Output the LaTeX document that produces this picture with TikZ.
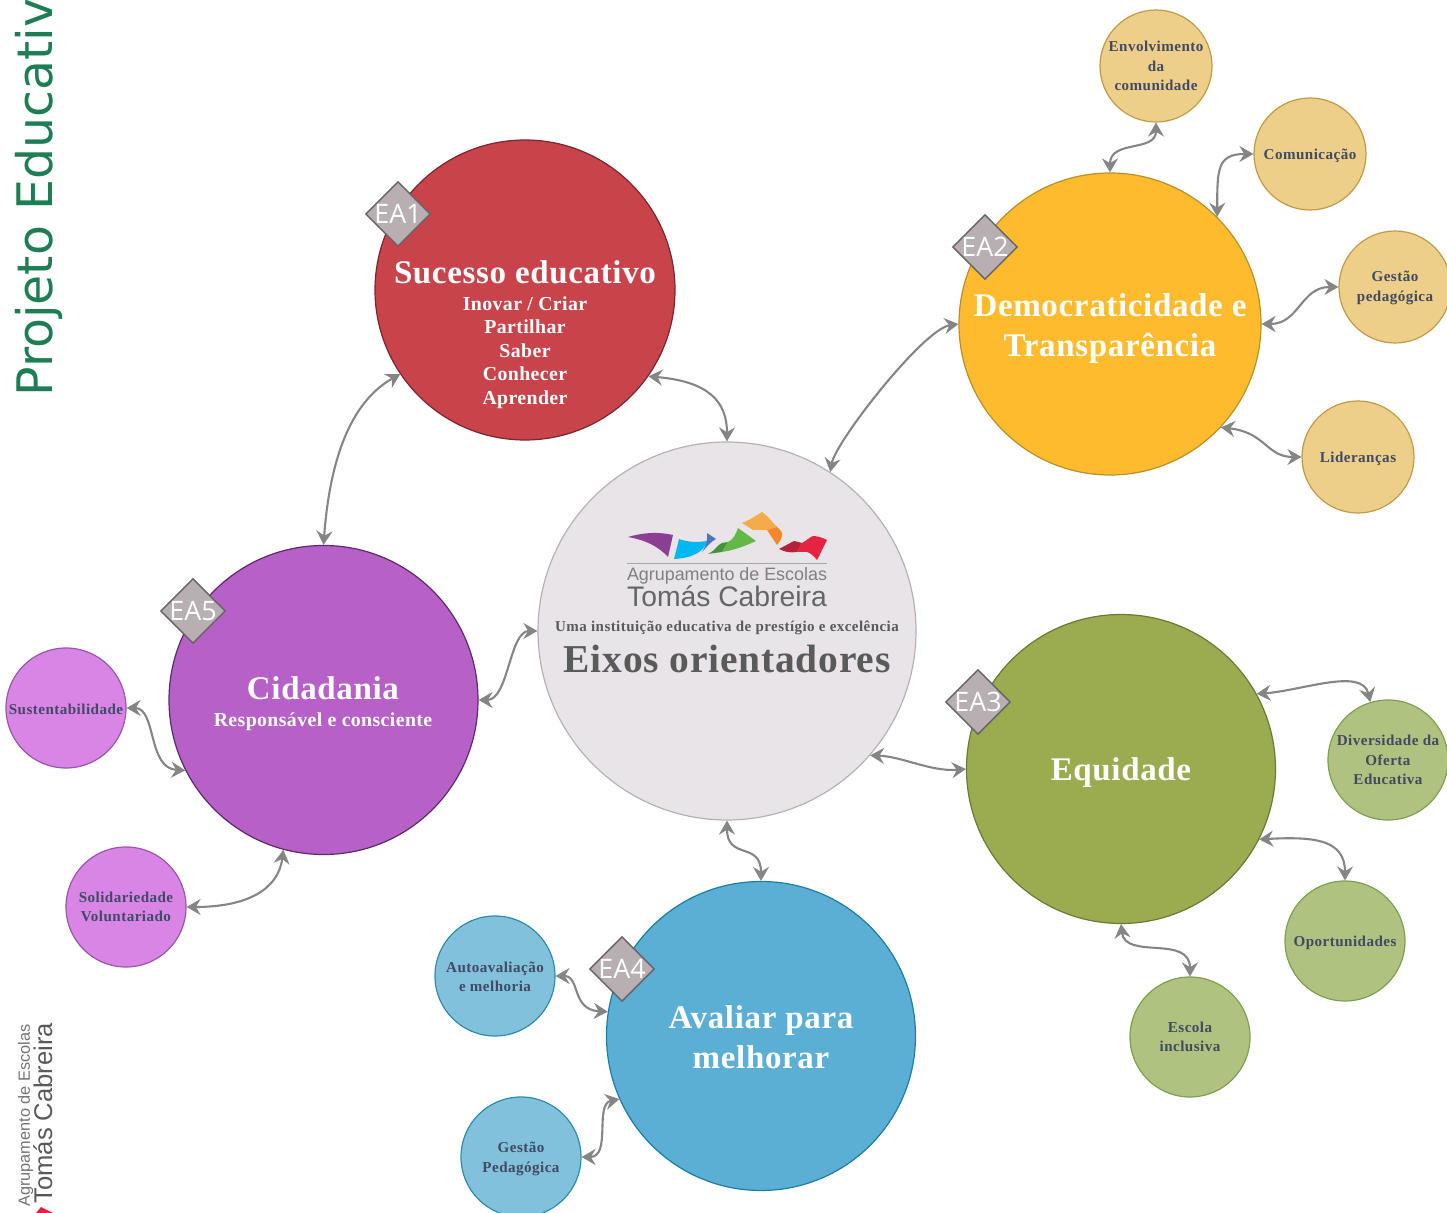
\documentclass[tikz,border=0pt]{standalone}
\usepackage{fontspec}
\setmainfont{Liberation Serif}
\newfontfamily\opn{Open Sans}
\newfontfamily\ttl{DejaVu Sans}
\newfontfamily\lgt{Liberation Sans}
\newfontfamily\serS[LetterSpace=3]{Liberation Serif}
\newfontfamily\serM[LetterSpace=2]{Liberation Serif}
\usetikzlibrary{arrows.meta,shapes.geometric}
\definecolor{ink}{HTML}{404A63}
\definecolor{connc}{HTML}{858585}
\definecolor{tagc}{HTML}{B8AFB2}
\definecolor{tagb}{HTML}{666266}
\definecolor{yelf}{HTML}{EECF8A}\definecolor{yeld}{HTML}{C09A45}
\definecolor{grnf}{HTML}{AFC27F}\definecolor{grnd}{HTML}{7FA050}
\definecolor{bluf}{HTML}{82C1DC}\definecolor{blud}{HTML}{2E8CAE}
\definecolor{purf}{HTML}{D885E6}\definecolor{purd}{HTML}{9A55AC}
\definecolor{maintxt}{HTML}{5A5A5A}
\tikzset{
 bigc/.style={circle,inner sep=0pt,line width=0.6pt},
 bigt/.style={inner sep=0pt,text=white,align=center,font=\fontsize{16.5}{20}\selectfont\serM\bfseries},
 subt/.style={inner sep=0pt,text=white,align=center,font=\fontsize{9.9}{11.75}\selectfont\serM\bfseries},
 smallc/.style={circle,inner sep=0pt,line width=0.6pt,align=center,text=ink,font=\fontsize{7.55}{9.6}\selectfont\serS\bfseries},
 conn/.style={draw=connc,line width=1.05pt,{Stealth[length=7pt,width=8pt,inset=2.4pt]}-{Stealth[length=7pt,width=8pt,inset=2.4pt]}},
 tagd/.style={diamond,aspect=1,inner sep=0pt,minimum size=32.5pt,fill=tagc,draw=tagb,line width=0.7pt,
   label={[text=white,inner sep=0pt,font=\fontsize{13.4}{13.4}\selectfont\opn]center:#1}},
 yel/.style={smallc,minimum size=56pt,fill=yelf,draw=yeld},
 grn/.style={smallc,minimum size=60pt,fill=grnf,draw=grnd},
 blu/.style={smallc,minimum size=60pt,fill=bluf,draw=blud},
 pur/.style={smallc,minimum size=60pt,fill=purf,draw=purd},
}
\newcommand{\lowr}[1]{\raisebox{-1pt}[\height][\depth]{#1}}
\newcommand{\lowh}[1]{\raisebox{-0.5pt}[\height][\depth]{#1}}
\begin{document}
\begin{tikzpicture}[x=0.5pt,y=-0.5pt]
\useasboundingbox (0,0) rectangle (1447,1213);
\clip (0,0) rectangle (1447,1213);
% title
\node[rotate=90,anchor=base west,inner sep=0pt,font=\fontsize{24.5}{24.5}\selectfont\ttl] (title) at (52,397) {\textcolor[HTML]{1F7D54}{Projeto Educativo}};
\node[rotate=90,anchor=base west,inner sep=0pt,text=gray!90!black,font=\fontsize{8.15}{8.15}\selectfont\lgt] (foot1) at (30,1207) {Agrupamento de Escolas};
\node[rotate=90,anchor=base west,inner sep=0pt,text=gray!70!black,font=\fontsize{12.8}{12.8}\selectfont\lgt] (foot2) at (52,1204) {Tomás Cabreira};
\fill[fill={rgb,255:red,228;green,34;blue,64}] (36,1213) -- (41,1207) -- (53,1213) -- cycle;
% circles
\node[bigc,minimum size=189pt,fill={rgb,255:red,232;green,228;blue,232},draw={rgb,255:red,181;green,177;blue,181}] (main) at (727,631) {};
\node[bigc,minimum size=150pt,fill={rgb,255:red,201;green,67;blue,75},draw={rgb,255:red,122;green,37;blue,48}] (ea1) at (525,290) {};
\node[bigc,minimum size=151pt,fill={rgb,255:red,255;green,187;blue,46},draw={rgb,255:red,184;green,144;blue,42}] (ea2) at (1110,324) {};
\node[bigc,minimum size=154.5pt,fill={rgb,255:red,155;green,171;blue,80},draw={rgb,255:red,107;green,122;blue,53}] (ea3) at (1121,769) {};
\node[bigc,minimum size=154.5pt,fill={rgb,255:red,91;green,174;blue,212},draw={rgb,255:red,28;green,126;blue,166}] (ea4) at (761,1036) {};
\node[bigc,minimum size=154.5pt,fill={rgb,255:red,183;green,97;blue,200},draw={rgb,255:red,90;green,42;blue,106}] (ea5) at (323.5,700) {};
% texts in big circles
\node[bigt] (t1) at (525,272) {Sucesso educativo};
\node[subt,anchor=north] (t1b) at (525,296) {Inovar / Criar\\Partilhar\\Saber\\Conhecer\\Aprender};
\node[bigt] (t2) at (1110,329) {Democraticidade e\\Transparência};
\node[bigt] (t3) at (1121,773) {Equidade};
\node[bigt] (t4) at (761,1037) {Avaliar para\\melhorar};
\node[bigt] (t5) at (323,688) {Cidadania};
\node[subt] (t5b) at (323,722) {Responsável e consciente};
% main text and logo
\fill[fill={rgb,255:red,138;green,63;blue,146}] (628,537) .. controls (645,532) and (660,532) .. (673,535) -- (668,557) .. controls (658,546) and (645,540) .. cycle;
\fill[fill={rgb,255:red,0;green,184;blue,240}] (679,539) .. controls (690,543) and (700,542) .. (707,541) .. controls (705,550) and (695,558) .. (674,559) -- cycle;
\fill[fill={rgb,255:red,80;green,115;blue,190}] (707,533) -- (716,539) .. controls (710,542) and (706,548) .. (702,552) .. controls (706,546) and (708,540) .. cycle;
\fill[fill={rgb,255:red,70;green,145;blue,60}] (708,554) .. controls (716,550) and (717,545) .. (722,543) -- (728,542) -- (722,552) -- cycle;
\fill[fill={rgb,255:red,100;green,185;blue,70}] (738,528) -- (756,541) .. controls (745,546) and (735,550) .. (722,552) -- (728,542) .. controls (733,540) and (736,534) .. cycle;
\fill[fill={rgb,255:red,245;green,170;blue,75}] (742,523) .. controls (750,520) and (757,515) .. (762,512) .. controls (768,516) and (772,522) .. (777,527) -- (767,530) -- (753,530) -- cycle;
\fill[fill={rgb,255:red,243;green,136;blue,45}] (767,530) -- (777,527) .. controls (780,530) and (783,532) .. (782,536) .. controls (781,540) and (779,543) .. (777,545) -- cycle;
\fill[fill={rgb,255:red,180;green,35;blue,55}] (779,549) -- (794,541) -- (802,543) -- (797,552) .. controls (790,553) and (785,552) .. cycle;
\fill[fill={rgb,255:red,230;green,35;blue,65}] (802,543) .. controls (806,541) and (810,537) .. (813,536) .. controls (818,536) and (823,538) .. (827,540) -- (817,560) .. controls (813,555) and (810,553) .. (807,552) -- (797,552) -- cycle;
\draw[draw=gray!70,line width=0.6pt] (627,563.5) -- (827,563.5);
\node[inner sep=0pt,text=gray,font=\fontsize{8.95}{8.95}\selectfont\lgt,anchor=base] (lg1) at (727,581) {Agrupamento de Escolas};
\node[inner sep=0pt,text=black!60,font=\fontsize{14.15}{14.15}\selectfont\lgt,anchor=base] (lg2) at (727,607) {Tomás Cabreira};
\node[inner sep=0pt,text=maintxt,font=\fontsize{7.5}{7.5}\selectfont\serS\bfseries] (m1) at (727,628) {Uma instituição educativa de prestígio e excelência};
\node[inner sep=0pt,text=maintxt,font=\fontsize{19.75}{19.75}\selectfont\serM\bfseries] (m2) at (727,659) {Eixos orientadores};
% small circles
\node[yel] (s1) at (1156,66) {Envolvimento\\da\\comunidade};
\node[yel] (s2) at (1310,154) {\lowr{Comunicação}};
\node[yel] (s3) at (1395,287) {\lowh{Gestão}\\\lowh{pedagógica}};
\node[yel] (s4) at (1358,457) {\lowr{Lideranças}};
\node[grn] (s5) at (1388,760) {Diversidade da\\Oferta\\Educativa};
\node[grn] (s6) at (1345,941) {\lowr{Oportunidades}};
\node[grn] (s7) at (1190,1037) {Escola\\inclusiva};
\node[blu] (s8) at (495,976) {\lowh{Autoavaliação}\\\lowh{e melhoria}};
\node[blu] (s9) at (521,1157) {\lowr{Gestão}\\\lowr{Pedagógica}};
\node[pur] (s10) at (66,708) {\lowh{Sustentabilidade}};
\node[pur] (s11) at (126,907) {Solidariedade\\Voluntariado};
% diamonds
\node[tagd=EA1] (d1) at (398,214) {};
\node[tagd=EA2] (d2) at (985,247) {};
\node[tagd=EA3] (d3) at (978,702) {};
\node[tagd=EA4] (d4) at (622,969) {};
\node[tagd=EA5] (d5) at (193,611) {};
% connectors
\draw[conn] (ea1.-35) .. controls +(60,5) and +(0,-40) .. (main.90);
\draw[conn] (ea5.90) .. controls +(7,-95) and +(-45,25) .. (ea1.214);
\draw[conn] (main.57) .. controls +(5,-30) and +(-35,5) .. (ea2.180);
\draw[conn] (main.-41) .. controls +(32,1) and +(-35,3) .. (ea3.180);
\draw[conn] (main.-90) .. controls +(0,40) and +(0,-40) .. (ea4.90);
\draw[conn] (main.180) .. controls +(-28,0) and +(30,0) .. (ea5.0);
\draw[conn] (s1.-90) .. controls +(0,30) and +(0,-33) .. (ea2.90);
\draw[conn] (s2.180) .. controls +(-36,0) and +(0,-48) .. (ea2.45);
\draw[conn] (s3.180) .. controls +(-38,0) and +(38,0) .. (ea2.0);
\draw[conn] (s4.180) .. controls +(-35,0) and +(45,5) .. (ea2.-43);
\draw[conn] (s5.107) .. controls +(-8,-35) and +(45,-3) .. (ea3.29);
\draw[conn] (s6.90) .. controls +(0,-41) and +(55,-3) .. (ea3.-27);
\draw[conn] (s7.90) .. controls +(0,-42) and +(4,36) .. (ea3.-90);
\draw[conn] (s8.0) .. controls +(25,0) and +(-37,-2) .. (ea4.171);
\draw[conn] (s9.0) .. controls +(30,0) and +(-25,5) .. (ea4.204);
\draw[conn] (s10.0) .. controls +(30,0) and +(-38,-2) .. (ea5.207);
\draw[conn] (s11.0) .. controls +(60,0) and +(-5,40) .. (ea5.255);
\end{tikzpicture}
\end{document}
